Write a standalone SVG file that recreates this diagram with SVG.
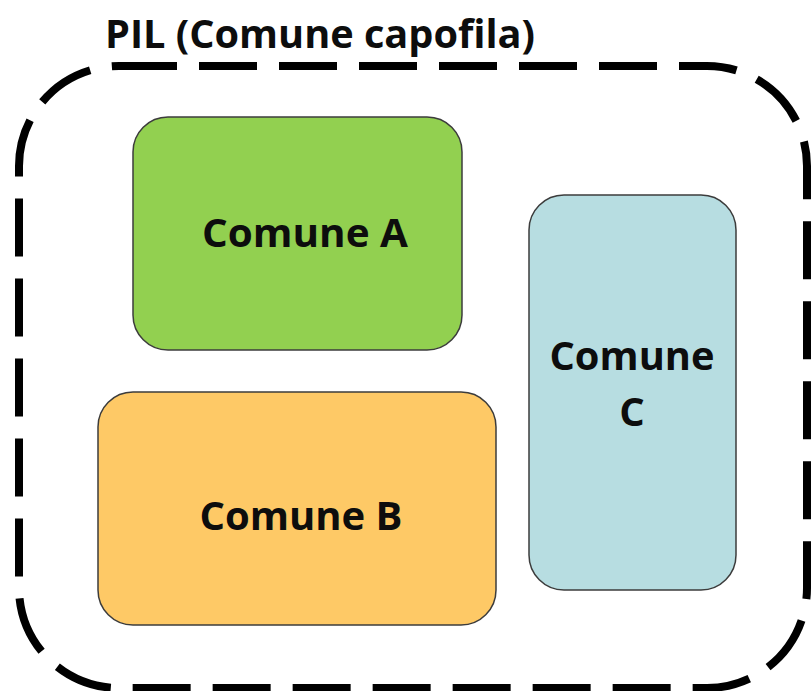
<svg xmlns="http://www.w3.org/2000/svg" width="812" height="691" viewBox="0 0 812 691">
<style>
.box{stroke:#3c3c3c;stroke-width:1.5}
.lbl{font-family:"Open Sans","Liberation Sans",sans-serif;font-weight:bold;font-size:40px;fill:#0d0d0d;text-anchor:middle}
</style>
<rect width="812" height="691" fill="#ffffff"/>
<g id="pil">
<rect x="19" y="66" width="788" height="622" rx="100" ry="100" fill="none" stroke="#000" stroke-width="8" stroke-dasharray="58 22"/>
<text x="105" y="48" font-family="'Open Sans','Liberation Sans',sans-serif" font-weight="bold" font-size="40" fill="#0d0d0d" textLength="430" lengthAdjust="spacingAndGlyphs">PIL (Comune capofila)</text>
</g>
<g id="comune-a">
<rect class="box" x="133" y="117" width="329" height="233" rx="35" fill="#92d050"/>
<text class="lbl" x="305" y="247" textLength="206" lengthAdjust="spacingAndGlyphs">Comune A</text>
</g>
<g id="comune-b">
<rect class="box" x="98" y="392" width="398" height="233" rx="35" fill="#fec966"/>
<text class="lbl" x="301" y="530" textLength="203" lengthAdjust="spacingAndGlyphs">Comune B</text>
</g>
<g id="comune-c">
<rect class="box" x="529" y="195" width="207" height="395" rx="35" fill="#b7dde1"/>
<text class="lbl" x="632" y="370" textLength="165" lengthAdjust="spacingAndGlyphs">Comune</text>
<text class="lbl" x="632" y="426">C</text>
</g>
</svg>
